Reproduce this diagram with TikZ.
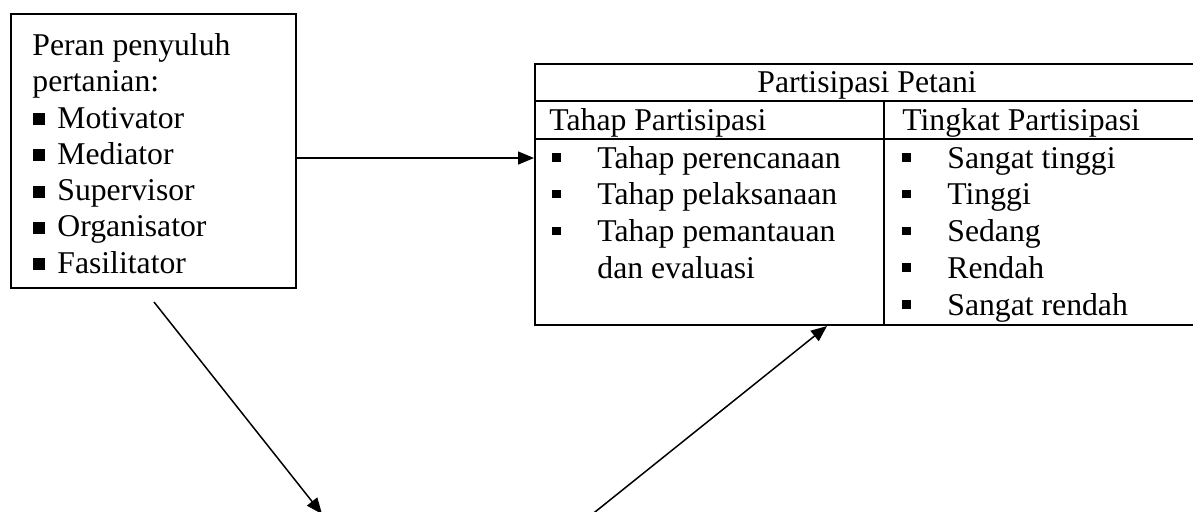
\documentclass[tikz,border=0pt]{standalone}
\usepackage{fontspec}
\setmainfont{Liberation Serif}
\usetikzlibrary{arrows.meta}
\newcommand{\bigbul}{\rule[1.5pt]{6pt}{6pt}}
\newcommand{\smbul}{\rule[3.2pt]{4.3pt}{4.3pt}}
\begin{document}
\begin{tikzpicture}[x=0.5pt,y=-0.5pt,
  txt/.style={anchor=base west, inner sep=0pt, font=\fontsize{15.85}{19}\selectfont},
  boxframe/.style={draw, line width=1pt, inner sep=0pt, anchor=north west},
  tline/.style={line width=1pt},
  arr/.style={line width=0.75pt, -{Triangle[length=8pt,width=6.5pt]}}]
\useasboundingbox (0,0) rectangle (1193,511);
\clip (0,0) rectangle (1193,511);

% left box
\node[boxframe, minimum width=142.5pt, minimum height=137pt] (peran) at (10,13) {};
\node[txt] (peran1) at (32,55) {Peran penyuluh};
\node[txt] (peran2) at (32,91.5) {pertanian:};
\foreach \t [count=\i] in {Motivator,Mediator,Supervisor,Organisator,Fasilitator}{
  \node[txt] (lb\i) at (33,{128+(\i-1)*36.3}) {\bigbul};
  \node[txt] (lt\i) at (57,{128+(\i-1)*36.3}) {\t};
}

% table
\node[boxframe, minimum width=333pt, minimum height=130.5pt] (tbl) at (534,63) {};
\draw[tline] (534,101) -- (1200,101);
\draw[tline] (534,139) -- (1200,139);
\draw[tline] (884,101) -- (884,324);
\node[txt, anchor=base] (head) at (867,92) {Partisipasi Petani};
\node[txt] (tahap) at (549,130) {Tahap Partisipasi};
\node[txt] (tingkat) at (902,130) {Tingkat Partisipasi};
\foreach \t [count=\i] in {Tahap perencanaan,Tahap pelaksanaan,Tahap pemantauan}{
  \node[txt] (tb\i) at (552,{168+(\i-1)*36.75}) {\smbul};
  \node[txt] (tt\i) at (597,{168+(\i-1)*36.75}) {\t};
}
\node[txt] (tt4) at (597,278.25) {dan evaluasi};
\foreach \t [count=\i] in {Sangat tinggi,Tinggi,Sedang,Rendah,Sangat rendah}{
  \node[txt] (gb\i) at (902,{168+(\i-1)*36.75}) {\smbul};
  \node[txt] (gt\i) at (947,{168+(\i-1)*36.75}) {\t};
}

% connectors
\coordinate (h) at (0,158);
\draw[arr] (peran.east |- h) -- (tbl.west |- h);
\coordinate (d1s) at (154,302);
\coordinate (d1e) at (322,514);
\draw[arr] (d1s) -- (d1e);
\coordinate (d2s) at (585,520);
\coordinate (d2e) at (827,326);
\draw[arr] (d2s) -- (d2e);
\end{tikzpicture}
\end{document}
